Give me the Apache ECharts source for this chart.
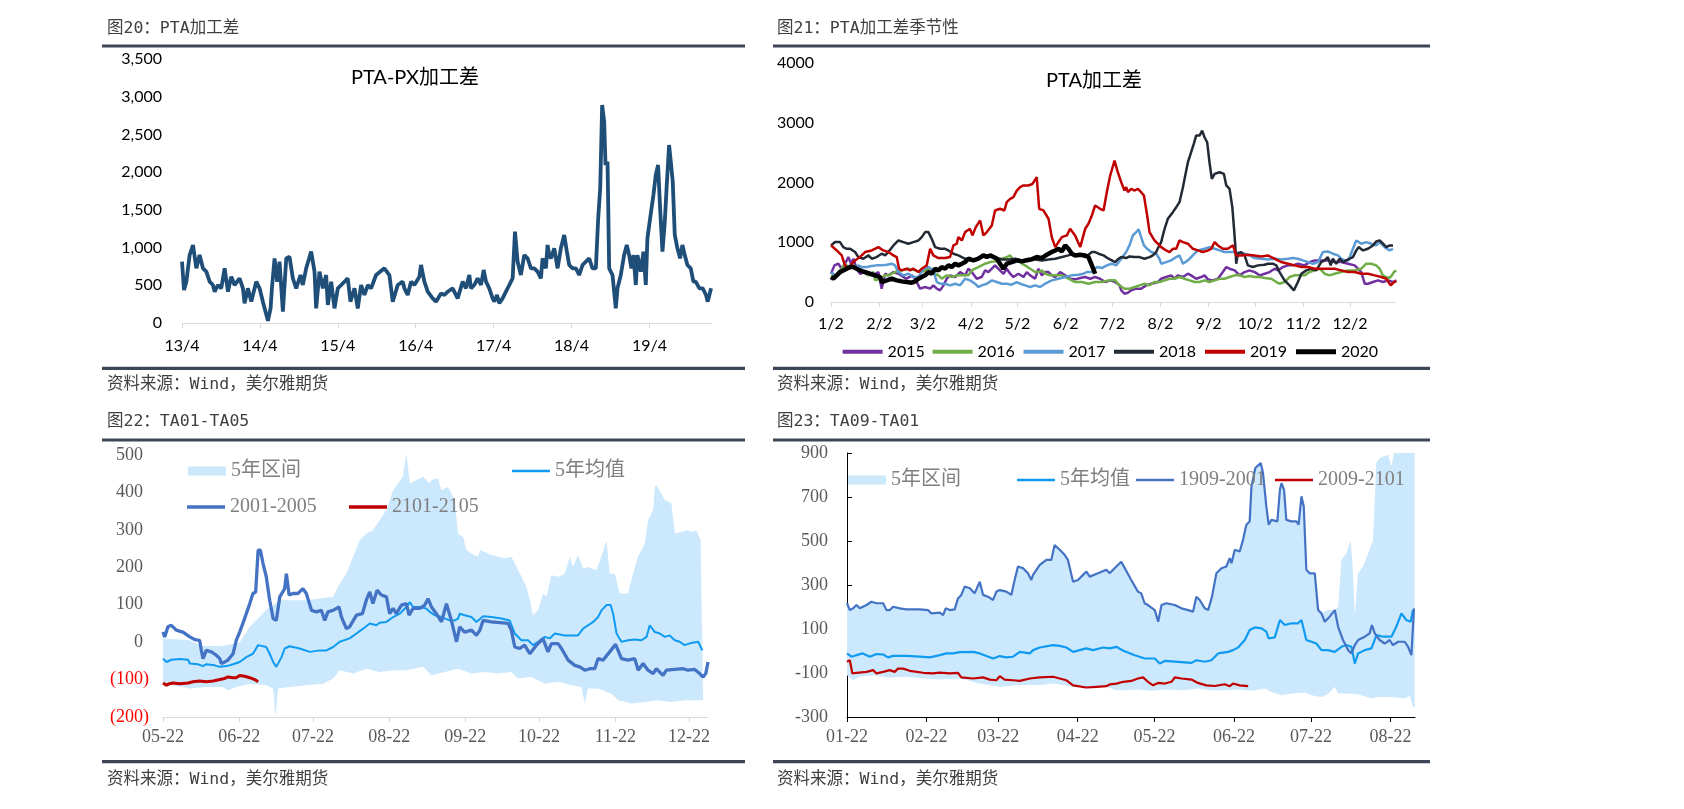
<!DOCTYPE html>
<html><head><meta charset="utf-8">
<script src="https://cdn.jsdelivr.net/npm/echarts@6/dist/echarts.min.js"></script>
<style>html,body{margin:0;padding:0;background:#fff}#c{width:1684px;height:809px}</style>
</head><body><div id="c"></div>
<script>
// ---------- Panel 1: PTA-PX加工差 (x = years since 2013-04) ----------
const p1TickPos = [0,1,2,3,4,5,6];
const p1TickLabels = ['13/4','14/4','15/4','16/4','17/4','18/4','19/4'];
const p1Data = [[0,813],[0.026,437],[0.056,548],[0.098,901],[0.141,1034],[0.184,725],[0.226,901],[0.269,725],[0.312,681],[0.355,548],[0.397,504],[0.419,415],[0.462,504],[0.504,460],[0.547,725],[0.59,415],[0.632,614],[0.675,504],[0.739,592],[0.782,460],[0.803,261],[0.846,460],[0.889,283],[0.953,548],[0.996,460],[1.038,283],[1.103,30],[1.137,194],[1.154,460],[1.188,857],[1.222,548],[1.252,813],[1.295,150],[1.338,857],[1.38,879],[1.423,592],[1.466,460],[1.521,636],[1.551,504],[1.594,725],[1.658,946],[1.701,681],[1.722,194],[1.765,681],[1.808,460],[1.85,636],[1.872,239],[1.915,548],[1.957,194],[2.0,460],[2.043,504],[2.128,592],[2.162,283],[2.214,460],[2.256,194],[2.299,504],[2.342,371],[2.385,504],[2.427,460],[2.491,636],[2.598,725],[2.662,636],[2.705,283],[2.769,504],[2.833,548],[2.855,460],[2.897,371],[2.94,548],[2.983,504],[3.047,614],[3.068,769],[3.111,548],[3.154,415],[3.218,327],[3.261,283],[3.325,393],[3.368,371],[3.41,415],[3.474,460],[3.538,327],[3.603,548],[3.645,460],[3.688,636],[3.709,460],[3.752,504],[3.795,592],[3.838,504],[3.872,703],[3.902,548],[3.944,460],[3.987,327],[4.009,283],[4.043,371],[4.073,261],[4.115,327],[4.158,415],[4.201,504],[4.244,592],[4.274,1211],[4.308,813],[4.35,636],[4.393,901],[4.436,857],[4.479,725],[4.521,725],[4.564,681],[4.607,592],[4.628,857],[4.671,725],[4.692,1034],[4.714,901],[4.735,857],[4.778,990],[4.821,725],[4.863,990],[4.906,1167],[4.94,946],[4.97,769],[5.013,725],[5.056,725],[5.098,636],[5.141,769],[5.184,813],[5.226,857],[5.269,725],[5.312,725],[5.342,1388],[5.368,1785],[5.393,2890],[5.419,2669],[5.436,2095],[5.462,2139],[5.483,725],[5.526,636],[5.568,194],[5.59,460],[5.632,636],[5.675,901],[5.709,1034],[5.739,901],[5.769,725],[5.795,901],[5.825,504],[5.846,901],[5.889,681],[5.923,946],[5.953,504],[5.974,1122],[6.009,1388],[6.051,1697],[6.081,1962],[6.111,2095],[6.137,1520],[6.167,946],[6.197,1343],[6.222,1829],[6.252,2360],[6.274,2139],[6.299,1874],[6.325,1167],[6.359,990],[6.393,857],[6.423,1034],[6.453,901],[6.487,769],[6.53,725],[6.564,548],[6.594,548],[6.641,460],[6.684,460],[6.726,371],[6.748,283],[6.791,460]];

// ---------- Panel 2: PTA加工差季节性 (x = days since 1/2) ----------
const p2TickPos = [0,31,59,90,120,151,181,212,243,273,304,334];
const p2TickLabels = ['1/2','2/2','3/2','4/2','5/2','6/2','7/2','8/2','9/2','10/2','11/2','12/2'];
const p2Names = ['2015','2016','2017','2018','2019','2020'];
const s2015 = [[0,473],[2.2,613],[4.7,641],[6.9,557],[9,641],[11.2,752],[12.9,641],[14.4,724],[16.5,557],[18.7,473],[21.9,501],[24.1,473],[27.3,446],[30.5,501],[32.6,223],[34.8,473],[36.9,446],[40.2,501],[43.4,473],[46.6,418],[48.7,390],[52,446],[54.1,390],[57.3,223],[60.6,251],[63.8,223],[65.9,279],[68.1,223],[70.2,195],[72.4,279],[74.5,390],[76.6,446],[79.9,418],[83.1,501],[86.3,446],[88.4,557],[90.6,501],[93.8,390],[97,418],[99.2,529],[101.3,501],[103.5,557],[105.6,613],[108.8,529],[111,473],[113.1,557],[115.3,473],[117.4,418],[120.6,473],[123.9,418],[126,501],[128.2,446],[131.4,390],[133.5,557],[135.7,446],[137.8,501],[140,501],[142.1,446],[144.3,418],[147.5,501],[150.7,446],[153.9,390],[157.1,379],[160.4,401],[163.6,418],[166.8,390],[170,418],[173.2,390],[176.5,334],[179.7,362],[182.9,334],[185.7,279],[186.8,195],[188.9,139],[191.1,156],[193.2,195],[196.4,223],[199.6,223],[202.9,279],[206.1,306],[210.4,334],[212.5,390],[215.7,418],[218.9,446],[221.1,390],[223.2,446],[226.5,418],[229.7,473],[231.8,446],[235,390],[238.3,418],[240.4,446],[242.6,379],[245.8,362],[249,390],[252.2,501],[254.4,585],[256.5,557],[259.8,529],[263,446],[266.2,501],[269.4,529],[272.7,501],[275.9,446],[279.1,473],[282.3,501],[285.5,557],[287.7,529],[290.9,585],[294.1,613],[297.3,613],[300.5,641],[304.8,613],[308,668],[311.3,696],[315.5,696],[319.8,696],[324.1,668],[328.4,668],[332.7,641],[337,613],[339.2,557],[341.3,501],[343.5,306],[345.6,306],[348.8,334],[352.1,362],[355.3,334],[358.5,362],[361.7,334],[363.9,362]];
const s2016 = [[0,446],[2.6,418],[4.7,501],[6.9,557],[9,641],[12.3,557],[14.4,613],[17.6,557],[20.8,501],[24.1,446],[27.3,501],[28.4,362],[31.6,390],[34.8,446],[36.9,446],[41.2,501],[45.5,529],[49.8,557],[54.1,529],[58.4,501],[60.6,529],[62.7,557],[64.8,501],[67,473],[69.1,446],[71.3,390],[74.5,446],[77.7,418],[80.9,446],[84.2,446],[88.4,446],[90.6,529],[92.7,557],[94.9,585],[97,613],[99.2,641],[102.4,668],[105.6,680],[109.9,724],[113.1,752],[115.3,780],[117.4,696],[120.6,696],[122.8,641],[124.9,613],[128.2,557],[131.4,501],[133.5,501],[135.7,529],[137.8,473],[141,446],[144.3,446],[148.6,446],[152.8,390],[157.1,334],[161.4,334],[165.7,306],[170,334],[174.3,334],[178.6,362],[182.9,362],[185.7,279],[188.9,223],[192.1,223],[195.4,251],[198.6,279],[201.8,306],[205,279],[208.2,334],[211.4,334],[214.7,362],[217.9,390],[221.1,390],[224.3,418],[227.5,390],[230.8,362],[234,334],[237.2,334],[240.4,362],[243.6,334],[246.9,362],[250.1,390],[253.3,390],[256.5,418],[259.8,446],[263,446],[266.2,418],[269.4,434],[272.7,418],[275.9,418],[279.1,401],[283.4,390],[286.6,334],[288.7,306],[291.9,334],[295.1,418],[298.4,446],[301.6,446],[304.8,446],[308,501],[311.3,529],[314.5,557],[317.7,473],[320.9,446],[324.1,473],[328.4,501],[332.7,529],[337,529],[341.3,557],[344.5,641],[347.7,641],[350.9,613],[353.1,557],[355.2,446],[357.4,418],[359.5,401],[361,446],[362.3,501],[363.8,529]];
const s2017 = [[0,501],[2.6,446],[5.8,473],[9,557],[12.3,613],[15.5,557],[17.6,613],[19.8,585],[23,585],[26.2,602],[29.4,613],[32.6,613],[35.9,624],[39.1,641],[41.2,613],[43.4,501],[46.6,446],[49.8,473],[53,418],[56.3,418],[59.5,557],[62.7,585],[65.9,529],[68.1,334],[70.2,306],[73.4,306],[76.6,279],[79.9,306],[83.1,279],[86.3,390],[89.5,362],[92.7,306],[94.9,251],[97,279],[100.3,306],[103.5,362],[106.7,334],[109.9,306],[113.1,306],[116.4,290],[119.6,334],[121.7,306],[124.9,279],[128.2,251],[131.4,279],[134.6,251],[137.8,306],[142.1,362],[146.4,390],[150.7,418],[155,446],[159.3,457],[162.5,473],[164.6,501],[167.9,501],[171.1,585],[174.3,568],[177.5,613],[180.7,641],[183.5,613],[186.8,724],[190,836],[192.1,947],[194.3,1114],[196.4,1170],[198,1214],[199.6,1086],[201.4,947],[203.5,891],[206.1,836],[209.3,808],[211.4,724],[212.5,641],[215.7,668],[218.9,696],[222.2,752],[224.3,780],[226.5,641],[229.7,696],[232.9,780],[236.1,863],[240.4,891],[243.6,919],[246.9,891],[250.1,863],[253.3,836],[259.8,836],[266.2,808],[269.4,780],[272.7,735],[276.9,724],[281.2,713],[285.5,724],[289.8,713],[294.1,724],[297.3,735],[300.5,724],[303.7,696],[307,668],[310.2,641],[313.4,668],[316.6,836],[319.8,847],[323,808],[326.3,780],[328.4,724],[330.6,696],[333.1,696],[335.9,891],[338.1,1030],[341.3,975],[344.5,1003],[347.7,975],[350.9,947],[353.1,1003],[356.3,919],[359.5,863],[361.7,891]];
const s2018 = [[0,947],[2.6,1003],[5.8,1003],[7.9,919],[10.1,891],[12.3,891],[15.5,836],[17.6,752],[20.8,724],[24.1,780],[26.2,724],[29.4,752],[32.6,808],[34.8,780],[36.9,836],[40.2,947],[43.4,1030],[46.6,1003],[49.8,975],[53,1003],[56.3,1030],[58.4,1086],[60.6,1170],[62.7,1170],[64.8,1058],[67,919],[70.2,891],[73.4,891],[75.6,863],[78.8,808],[82,780],[84.2,752],[86.3,724],[89.5,713],[92.7,713],[94.9,724],[97,752],[99.2,780],[101.3,780],[105.6,752],[109.9,713],[114.2,713],[118.5,724],[122.8,696],[127.1,724],[131.4,713],[135.7,696],[140,713],[144.3,724],[148.6,752],[152.8,780],[156.1,808],[159.3,780],[161.4,780],[163.6,752],[165.7,791],[167.9,836],[170,836],[172.2,808],[175.4,780],[178.6,724],[182.9,668],[184.6,713],[186.8,752],[190,735],[192.1,763],[195.4,752],[198.6,752],[201.8,724],[205,752],[207.2,780],[209.3,836],[210.8,919],[212.5,1003],[214.7,1225],[216.8,1393],[220,1504],[222.2,1587],[224.3,1671],[226.5,1922],[228,2117],[229.7,2339],[231.8,2507],[233.5,2646],[235,2785],[237.2,2785],[238.9,2869],[240.4,2757],[242.1,2674],[243.6,2339],[245.1,2061],[246.9,2144],[250.1,2172],[252.9,2144],[254.4,1950],[256.5,1894],[258.3,1587],[259.4,1225],[260.2,947],[260.8,641],[261.9,808],[264,836],[266.2,780],[268.3,613],[271.5,585],[274.8,613],[279.1,624],[281.2,641],[284.4,641],[286.6,613],[288.7,501],[291.9,362],[295.1,279],[297.9,195],[300.5,334],[302.7,473],[305.9,529],[309.1,557],[312.3,529],[315.5,668],[317.7,696],[319.8,752],[321.6,613],[323,724],[325.2,641],[327.4,724],[329.5,668],[331.6,696],[333.8,724],[335.9,752],[338.1,863],[339.6,919],[342.4,863],[345.6,891],[348.8,947],[351,1014],[353.1,1030],[355.3,975],[357.4,919],[359.6,947],[361.7,947]];
const s2019 = [[0,947],[3.7,863],[6.9,780],[9,613],[11.2,557],[14.4,668],[19.8,780],[21.9,836],[26.2,863],[30.5,919],[33.7,863],[36.9,836],[40.2,780],[42.3,752],[43.8,557],[45.5,529],[48.7,557],[50.9,529],[53,557],[56.3,501],[58.4,557],[61.6,613],[63.8,891],[65.9,780],[69.1,735],[73.4,735],[76.6,752],[78.8,947],[80.9,975],[82,1086],[84.2,1030],[86.3,1170],[89.5,1225],[91,1114],[93.2,1253],[96,1365],[98.1,1114],[100.3,1170],[103.5,1281],[105.6,1532],[108.8,1560],[111.6,1532],[113.1,1671],[115.3,1727],[117.4,1755],[119.6,1866],[121.7,1922],[123.9,1950],[127.1,1950],[129.7,1977],[132.4,2089],[134,1560],[136.7,1532],[140,1393],[142.1,1086],[144.3,919],[146.4,1003],[148.6,1086],[151.8,1114],[153.9,1225],[157.1,1114],[160.4,919],[163.6,1225],[165.7,1309],[167.9,1448],[170,1615],[173.2,1560],[175.4,1532],[177.5,1838],[179.7,2117],[182.5,2367],[184.6,2172],[186.8,2005],[188.9,1866],[190,1922],[191.1,1838],[193.2,1894],[195.4,1866],[197.5,1894],[199.6,1838],[201.4,1782],[203.5,1448],[205,1170],[208.2,1030],[210.4,975],[212.5,919],[215.7,863],[217.9,836],[220,891],[222.2,891],[224.3,1030],[226.5,1003],[229.7,975],[232.9,891],[236.1,863],[239.3,836],[242.6,863],[244.7,891],[246.9,1003],[249,947],[252.2,891],[255.4,891],[258.7,947],[260.8,780],[264,780],[268.3,791],[272.5,780],[276.9,763],[281.2,780],[283.3,752],[285.5,724],[289.8,668],[294.1,641],[298.4,613],[302.7,585],[307,585],[311.3,557],[315.5,557],[319.8,557],[324.1,557],[328.4,529],[332.7,501],[337,501],[341.3,473],[345.6,473],[349.9,446],[354.2,418],[357.4,390],[360.2,279],[362.4,334],[363.9,345]];
const s2020 = [[0,418],[1.5,390],[3.7,446],[5.8,501],[7.9,529],[10.1,557],[12.3,585],[14.4,585],[16.5,557],[18.7,529],[21.9,501],[25.1,473],[28.4,446],[31.6,418],[32.6,334],[35.9,362],[39.1,390],[42.3,362],[45.5,345],[48.7,334],[52,323],[54.1,345],[56.3,390],[58.4,418],[60.6,446],[62.7,501],[64.8,473],[67,557],[69.1,529],[71.3,585],[73.4,557],[75.6,613],[77.7,585],[79.9,641],[82,613],[84.2,641],[86.3,668],[88.4,724],[91.7,696],[94.9,724],[98.1,780],[100.3,752],[102.4,780],[104.6,752],[106.7,724],[108.8,641],[111,557],[113.1,641],[116.4,668],[119.6,696],[122.8,680],[126,696],[129.2,713],[132.4,752],[135.7,735],[138.9,791],[142.1,836],[144.3,863],[146.4,891],[148.6,847],[150.7,947],[152.8,891],[155,808],[157.1,780],[160.4,791],[163.6,780],[165.7,752],[167.9,613],[170,473]];

// ---------- Panel 3: TA01-TA05 (x = days since 05-22) ----------
const p3TickPos = [0,31,61,92,123,153,184,214];
const p3TickLabels = ['05-22','06-22','07-22','08-22','09-22','10-22','11-22','12-22'];
const p3Upper = [[0,10],[10.9,5],[15.6,-10],[24.4,-10],[31.2,-1],[35.3,41],[42,85],[47.5,112],[58.3,112],[69.2,121],[71.9,157],[74.6,183],[80,272],[82.7,290],[85.4,299],[88.1,326],[90.9,353],[93.6,406],[97.6,442],[99,504],[100.4,424],[103.1,433],[105.8,442],[108.5,424],[109.2,433],[111.9,438],[113.2,406],[115.9,415],[118.7,380],[120,290],[122.1,281],[123.4,246],[125.4,237],[128.2,228],[128.9,246],[133.6,233],[139,224],[141.7,228],[143.1,210],[145.8,175],[147.8,148],[149.2,112],[150.5,72],[152.6,85],[154.6,130],[156,121],[158,179],[160.8,175],[163.4,183],[165.5,228],[166.8,201],[168.8,233],[170.9,197],[172.9,201],[176.3,192],[178.3,228],[180.4,272],[181.7,183],[183.8,183],[185.8,130],[189.2,130],[191.2,183],[193.2,228],[196,263],[197.3,326],[199.4,353],[200.1,415],[200.7,419],[202.7,397],[204.1,380],[206.8,371],[208.2,290],[210.9,294],[213.6,299],[214.9,294],[216.9,299],[218.7,272],[219.7,-155]];
const p3Lower = [[0,-111],[4.1,-115],[10.9,-124],[17.6,-120],[24.4,-120],[26.4,-129],[29.8,-120],[35.3,-111],[42,-115],[44.8,-124],[45.8,-200],[46.8,-124],[51.5,-120],[58.3,-115],[65.1,-111],[69.2,-97],[71.9,-75],[77.3,-84],[82.7,-71],[88.1,-80],[93.6,-75],[99,-75],[105.8,-66],[108.5,-84],[109.2,-89],[114.6,-80],[120,-71],[125.4,-84],[130.9,-80],[136.3,-84],[141.7,-80],[144.4,-97],[149.9,-93],[155.3,-111],[160.7,-106],[166.1,-115],[170.2,-120],[171.6,-164],[172.9,-124],[176.9,-124],[182.4,-138],[185.2,-155],[190.6,-164],[196,-160],[201.4,-155],[206.8,-160],[212.2,-155],[219.7,-155]];
const p3Avg = [[0,-44],[1.4,-53],[3.4,-47],[6.8,-45],[10.2,-47],[10.9,-57],[14.2,-59],[16.3,-64],[17.6,-59],[21,-62],[23.1,-66],[25.8,-64],[28.5,-59],[31.2,-53],[33.9,-40],[36.6,-31],[38.7,-8],[42,-13],[43.4,-31],[44.8,-53],[46.1,-66],[48.2,-40],[49.5,-17],[51.5,-11],[55.6,-17],[59.7,-26],[63.8,-22],[66.5,-22],[69.2,-13],[71.9,1],[75.9,10],[78.7,23],[81.4,36],[84.1,50],[86.8,45],[88.1,52],[90.9,54],[93.6,67],[96.3,76],[99,94],[100.4,107],[101.7,94],[104.4,94],[107.1,90],[108.5,81],[110.5,72],[113.2,67],[116.6,58],[118.7,58],[120,63],[120.7,76],[122.7,72],[125.5,67],[127.5,54],[130.2,69],[133.6,67],[137.7,63],[141,58],[143.1,23],[145.8,5],[148.5,5],[150.5,-8],[152.6,1],[155.3,14],[157.3,10],[159.4,23],[163.4,18],[168.8,18],[170.9,36],[172.9,45],[175,54],[177,67],[178.4,85],[180.4,99],[182.1,99],[183.1,76],[184.5,23],[186.5,1],[189.2,5],[191.9,7],[194.6,5],[196.7,14],[198,45],[200.1,27],[202.1,23],[204.1,14],[206.1,18],[208.2,5],[210.2,1],[212.2,-8],[214.9,-2],[217.7,1],[219.4,-22]];
const p3Cur = [[0,27],[0.7,14],[2,41],[3.4,45],[5.4,32],[8.1,27],[10.9,14],[12.9,7],[14.9,5],[15.6,-22],[16.3,-44],[17.6,-22],[19.7,-26],[21.7,-35],[23.1,-44],[23.7,-57],[25.1,-53],[26.4,-48],[28.5,-31],[29.8,5],[31.2,27],[33.2,63],[35.3,103],[36.6,130],[37.7,134],[38.7,246],[39.6,246],[40.7,210],[42,175],[43.4,112],[44.8,63],[46.1,58],[47.5,121],[49.5,143],[50.2,183],[51.3,126],[52.9,130],[54.9,130],[56.9,143],[58.3,130],[60.4,85],[62.4,81],[64.4,85],[65.8,58],[67.1,81],[69.2,85],[71.6,94],[72.6,67],[74.6,36],[75.9,41],[78.7,72],[81.1,76],[82.7,112],[84.1,134],[85.4,103],[87.1,139],[88.8,126],[90.9,121],[92.2,76],[93.6,90],[94.9,76],[97,99],[99,103],[100.1,72],[101.7,90],[104.4,90],[106.5,99],[107.8,116],[108.5,116],[109.2,94],[111.2,76],[113.3,54],[115.3,103],[117.3,58],[119.4,1],[120.7,41],[122.7,27],[125.5,32],[127.5,18],[128.9,32],[130.2,58],[133.6,54],[140.4,50],[141.7,32],[143.1,-13],[145.1,-17],[147.1,-8],[149.2,-31],[151.9,-8],[154.6,9],[156.6,-26],[158,-4],[160.7,-4],[162.1,-17],[164.8,-48],[167.5,-62],[169.5,-66],[171.6,-75],[173.6,-71],[175.6,-71],[177,-44],[179,-48],[181.7,-26],[184.1,-6],[186.5,-44],[189.2,-48],[191.9,-44],[193.3,-75],[195.3,-57],[197.3,-75],[199.4,-84],[200.7,-71],[203.4,-89],[204.8,-75],[208.2,-73],[211.6,-71],[213.6,-75],[216.3,-73],[218.3,-84],[219.7,-93],[220.8,-84],[221.7,-53]];
const p3New = [[0,-109],[1.4,-115],[2.7,-111],[4.1,-109],[6.8,-111],[10.2,-109],[12.2,-106],[14.9,-104],[17.6,-106],[20.4,-104],[23.1,-100],[25.1,-97],[26.4,-93],[28.5,-95],[29.8,-95],[31.2,-89],[33.2,-91],[35.3,-95],[37.3,-100],[38.7,-106]];

// ---------- Panel 4: TA09-TA01 (x = days since 01-22) ----------
const p4TickPos = [0,31,59,90,120,151,181,212];
const p4TickLabels = ['01-22','02-22','03-22','04-22','05-22','06-22','07-22','08-22'];
const p4Cur = [[0,217],[1.1,186],[2.4,194],[3.7,209],[5,194],[7.6,209],[9.5,224],[11.5,217],[14.1,217],[15.4,186],[16.7,186],[18,201],[20.6,194],[23.2,189],[28.4,189],[31.6,186],[32.9,171],[36.2,174],[37.5,163],[38.5,194],[40.1,186],[42,189],[43.3,239],[44.6,255],[45.9,293],[47.9,285],[49.8,262],[51.8,315],[53.1,255],[55,247],[57,232],[58.3,270],[59.6,277],[62.2,270],[64.1,255],[65.4,323],[66.7,384],[68.7,376],[70.6,353],[71.9,323],[72.6,346],[75.2,391],[77.8,414],[79.7,414],[81,482],[83,460],[84.9,437],[86.2,414],[88.2,315],[90.1,323],[92.1,346],[93.4,361],[94.7,338],[97.9,353],[101.2,369],[102.5,353],[104.4,376],[107,406],[110.9,323],[113.5,270],[114.8,262],[116.1,217],[117.4,209],[120.1,186],[121.4,133],[122.7,209],[124.6,217],[127.9,209],[130.5,194],[133.1,186],[135,179],[136.3,247],[137.6,232],[139.6,194],[140.9,186],[142.4,247],[144.1,353],[146.1,376],[148,384],[149.3,422],[150,399],[151.3,460],[153.2,452],[154.5,505],[155.8,574],[157.1,589],[157.8,748],[159.3,832],[161.4,854],[162.3,809],[163.6,657],[164.5,574],[165.6,596],[167.9,589],[168.9,733],[169.5,763],[170.5,733],[171.4,596],[173.4,589],[175.3,589],[176.2,574],[177.3,703],[178.2,657],[179.2,369],[180.5,353],[182.5,353],[183.8,186],[185.1,171],[186.4,133],[188.3,156],[190.3,186],[191.6,110],[193.5,50],[195.5,4],[196.8,-11],[198.1,27],[199.4,50],[202,65],[203.9,80],[204.8,118],[205.9,80],[207.8,50],[209.8,34],[211.7,50],[213,27],[215,42],[217.6,42],[218.9,19],[220.2,-19],[221.2,194]];
const p4Upper = [[0,217],[1.1,186],[2.4,194],[3.7,209],[5,194],[7.6,209],[9.5,224],[11.5,217],[14.1,217],[15.4,186],[16.7,186],[18,201],[20.6,194],[23.2,189],[28.4,189],[31.6,186],[32.9,171],[36.2,174],[37.5,163],[38.5,194],[40.1,186],[42,189],[43.3,239],[44.6,255],[45.9,293],[47.9,285],[49.8,262],[51.8,315],[53.1,255],[55,247],[57,232],[58.3,270],[59.6,277],[62.2,270],[64.1,255],[65.4,323],[66.7,384],[68.7,376],[70.6,353],[71.9,323],[72.6,346],[75.2,391],[77.8,414],[79.7,414],[81,482],[83,460],[84.9,437],[86.2,414],[88.2,315],[90.1,323],[92.1,346],[93.4,361],[94.7,338],[97.9,353],[101.2,369],[102.5,353],[104.4,376],[107,406],[110.9,323],[113.5,270],[114.8,262],[116.1,217],[117.4,209],[120.1,186],[121.4,133],[122.7,209],[124.6,217],[127.9,209],[130.5,194],[133.1,186],[135,179],[136.3,247],[137.6,232],[139.6,194],[140.9,186],[142.4,247],[144.1,353],[146.1,376],[148,384],[149.3,422],[150,399],[151.3,460],[153.2,452],[154.5,505],[155.8,574],[157.1,589],[157.8,748],[159.3,832],[161.4,854],[162.3,809],[163.6,657],[164.5,574],[165.6,596],[167.9,589],[168.9,733],[169.5,763],[170.5,733],[171.4,596],[173.4,589],[175.3,589],[176.2,574],[177.3,703],[178.2,657],[179.2,369],[180.5,353],[182.5,353],[183.8,186],[185.1,171],[187.6,186],[190.3,186],[191.6,201],[192.9,414],[194.8,444],[196.5,505],[197.2,399],[198.1,163],[199.4,353],[201.3,384],[203.9,460],[205.2,505],[206.5,854],[207.8,877],[211.1,892],[212.4,839],[213.4,900],[221.5,900]];
const p4Lower = [[0,-110],[2.4,-133],[5,-117],[10.2,-110],[16.7,-120],[23.2,-117],[31,-125],[36.2,-130],[44,-125],[51.8,-148],[59.6,-163],[67.4,-155],[75.2,-155],[80.4,-148],[88.2,-163],[93.4,-171],[96,-163],[101.2,-163],[105.1,-178],[108.3,-178],[113.5,-175],[118.8,-181],[124,-175],[131.8,-178],[136.9,-171],[142.2,-178],[147.3,-178],[152.6,-175],[157.8,-181],[163,-171],[165.6,-186],[169.5,-201],[173.4,-193],[178.6,-189],[181.2,-201],[185.1,-209],[187.6,-197],[190.3,-163],[191.6,-193],[194.2,-193],[199.4,-197],[204.6,-216],[207.1,-209],[212.4,-209],[217.6,-216],[219.6,-205],[220.8,-254],[221.5,-254]];
const p4Avg = [[0,-11],[1.7,-26],[3.7,-19],[6.2,-11],[8.9,-26],[11.5,-14],[14.1,-16],[16,-29],[18,-22],[23.2,-22],[28.4,-26],[32.3,-29],[36.2,-19],[38.8,-11],[41.4,-11],[44,-5],[49.2,-4],[51.8,-11],[54.4,-23],[57,-34],[59.6,-23],[62.2,-29],[64.8,-26],[67.4,-4],[71.3,-11],[72.6,4],[75.2,16],[80.4,27],[83,23],[85.6,16],[88.2,-4],[90.8,4],[93.4,12],[96,4],[99.9,16],[102.5,12],[105.1,19],[107.8,1],[112.3,-19],[116.2,-34],[120.1,-34],[122,-57],[124,-45],[129.2,-49],[134.4,-54],[136.3,-42],[139.6,-49],[142.2,-42],[144.8,-11],[148.7,-4],[150.6,4],[152.6,16],[155.2,50],[157.1,95],[159.1,107],[161.7,103],[163.6,88],[164.5,57],[166.9,62],[168.9,141],[170.8,118],[173.4,126],[176,126],[177.3,141],[179.2,50],[181.2,42],[183.1,34],[185.1,4],[187.6,4],[190.3,-4],[192.9,19],[194.8,27],[196.8,19],[198.1,-57],[199.4,-11],[202,4],[204.6,12],[206.6,72],[209.2,65],[212.4,65],[214.3,110],[216.3,171],[218.2,141],[219.9,133],[220.8,186]];
const p4New = [[0,-49],[1.1,-42],[2.1,-102],[3.7,-99],[7.6,-95],[10.2,-87],[11.5,-102],[14.1,-95],[16.7,-87],[18.6,-95],[19.9,-80],[21.9,-80],[24.5,-90],[29.7,-99],[33.6,-102],[36.2,-98],[40.1,-102],[43.3,-99],[44.6,-120],[49.2,-125],[53.1,-120],[55.7,-130],[58.3,-133],[59.6,-114],[61.5,-130],[64.8,-133],[67.4,-136],[71.3,-125],[75.2,-120],[80.4,-117],[83,-125],[85.6,-133],[88.2,-156],[93.4,-166],[97.3,-163],[101.2,-160],[102.5,-152],[105.1,-148],[107.8,-140],[110.9,-136],[113.5,-125],[115.5,-120],[117.4,-140],[119.4,-156],[121.4,-145],[124,-148],[126.6,-140],[127.9,-120],[130.5,-125],[134.4,-130],[136.9,-145],[140.2,-156],[143.5,-159],[147.4,-151],[149.3,-160],[150.6,-148],[153.2,-156],[156.5,-160]];

// ---------- styling ----------
const F_CAL = 'Lato, "Noto Sans CJK SC", sans-serif';
const F_SER = '"Liberation Serif", "Noto Sans CJK SC", serif';
const F_HDR = '"DejaVu Sans Mono", "Noto Sans CJK SC", monospace';
const BAND = '#CCE8FC', AVG = '#0F9BF2', CUR = '#4472C4', NEWC = '#C00000', RULE = '#3C4656';
const p2Colors = ['#7030A0','#70AD47','#5B9BD5','#222A35','#C00000','#000000'];
const p2Widths = [2.5,2.5,2.5,2.5,2.5,4.5];

const chart = echarts.init(document.getElementById('c'), null, {renderer:'canvas'});

function fmtComma(v){ return String(v).replace(/\B(?=(\d{3})+(?!\d))/g, ','); }
function lookup(pos, labels){ return v => { const i = pos.indexOf(Math.round(v*100)/100); return i >= 0 ? labels[i] : ''; }; }

function xAx(gi, max, pos, labels, lineColor, font, size, color, margin){
  return {gridIndex:gi, type:'value', min:0, max:max,
    axisLine:{show:true, onZero:false, lineStyle:{color:lineColor, width:1}},
    axisTick:{show:true, inside:false, length:5, lineStyle:{color:lineColor}, customValues:pos},
    axisLabel:{customValues:pos, formatter:lookup(pos, labels), fontFamily:font, fontSize:size, color:color, margin:margin, showMinLabel:true, showMaxLabel:true},
    splitLine:{show:false}};
}

function band(name, xi, upper, lower){
  return {type:'custom', name:name, xAxisIndex:xi, yAxisIndex:xi, z:1, silent:true,
    data:[[upper[0][0], upper[0][1]]], itemStyle:{color:BAND},
    renderItem:(params, api) => {
      const pts = upper.map(p => api.coord(p)).concat(lower.slice().reverse().map(p => api.coord(p)));
      return {type:'polygon', shape:{points:pts}, style:{fill:BAND}};
    }};
}
function line(name, xi, data, color, width, z){
  return {type:'line', name:name, xAxisIndex:xi, yAxisIndex:xi, data:data, showSymbol:false, symbol:'none',
    lineStyle:{color:color, width:width}, itemStyle:{color:color}, z:z||2, silent:true};
}
function lg(name, left, cy, w, h, font, size, color, itemColor){
  const lh = size + 4;
  const d = {name:name, icon:'rect'};
  if (itemColor) d.itemStyle = {color:itemColor};
  return {show:true, selectedMode:false, left:left, top:cy - lh/2, padding:0, itemGap:0,
    itemWidth:w, itemHeight:h, data:[d], itemStyle:{borderWidth:0},
    textStyle:{fontFamily:font, fontSize:size, color:color, lineHeight:lh}};
}
function txt(x, y, s, font, size, color, align){
  return {type:'text', x:x, y:y, silent:true, style:{text:s, fontFamily:font, fontSize:size, fill:color,
    textAlign:align||'left', textVerticalAlign:'middle', align:align||'left', verticalAlign:'middle'}};
}
function rule(x1, x2, cy){ return {type:'rect', silent:true, shape:{x:x1, y:cy-1.6, width:x2-x1, height:3.2}, style:{fill:RULE}}; }

const series = [];
series.push(line('PTA-PX', 0, p1Data, '#1F4E79', 3.8));
const p2Data = [s2015, s2016, s2017, s2018, s2019, s2020];
p2Names.forEach((n, i) => series.push(line(n, 1, p2Data[i], p2Colors[i], p2Widths[i], 2 + i*0.1)));
series.push(band('5年区间', 2, p3Upper, p3Lower));
series.push(line('5年均值', 2, p3Avg, AVG, 2));
series.push(line('2001-2005', 2, p3Cur, CUR, 3.3, 3));
series.push(line('2101-2105', 2, p3New, NEWC, 3, 4));
series.push(band('5年区间', 3, p4Upper, p4Lower));
series.push(line('5年均值', 3, p4Avg, AVG, 2.2));
series.push(line('1909-2001', 3, p4Cur, CUR, 2.2, 3));
series.push(line('2009-2101', 3, p4New, NEWC, 2.2, 4));

const p2LegendLeft = [842.6, 932.6, 1023.5, 1114, 1205, 1296];
const legends = p2Names.map((n, i) => lg(n, p2LegendLeft[i], 351.7, 40, i === 5 ? 5 : 4, F_CAL, 16, '#000'));
legends.push(lg('5年区间', 188, 471, 38, 9, F_SER, 20, '#7F7F7F', BAND));
legends.push(lg('5年均值', 512, 471, 38, 2.5, F_SER, 20, '#7F7F7F'));
legends.push(lg('2001-2005', 187, 507, 38, 3.5, F_SER, 20, '#7F7F7F'));
legends.push(lg('2101-2105', 349, 507, 38, 3.5, F_SER, 20, '#7F7F7F'));
legends.push(lg('5年区间', 848, 480, 38, 9, F_SER, 20, '#7F7F7F', BAND));
legends.push(lg('5年均值', 1017, 480, 38, 2.5, F_SER, 20, '#7F7F7F'));
legends.push(lg('1909-2001', 1136, 480, 38, 2.5, F_SER, 20, '#7F7F7F'));
legends.push(lg('2009-2101', 1275, 480, 38, 2.5, F_SER, 20, '#7F7F7F'));

const option = {
  animation:false,
  backgroundColor:'#ffffff',
  grid:[
    {left:182, top:59, width:529, height:264},
    {left:831, top:63, width:564, height:239},
    {left:163, top:455, width:545, height:262},
    {left:847, top:453, width:568, height:264}
  ],
  xAxis:[
    xAx(0, 6.79, p1TickPos, p1TickLabels, '#D9D9D9', F_CAL, 16, '#000', 15),
    xAx(1, 363, p2TickPos, p2TickLabels, '#D9D9D9', F_CAL, 16, '#000', 14),
    xAx(2, 221.7, p3TickPos, p3TickLabels, '#D9D9D9', F_SER, 18, '#595959', 11),
    xAx(3, 221.6, p4TickPos, p4TickLabels, '#000000', F_SER, 18, '#595959', 11)
  ],
  yAxis:[
    {gridIndex:0, type:'value', min:0, max:3500, interval:500, axisLine:{show:false}, axisTick:{show:false}, splitLine:{show:false},
      axisLabel:{formatter:fmtComma, fontFamily:F_CAL, fontSize:16, color:'#000', margin:20}},
    {gridIndex:1, type:'value', min:0, max:4000, interval:1000, axisLine:{show:false}, axisTick:{show:false}, splitLine:{show:false},
      axisLabel:{formatter:v => String(v), fontFamily:F_CAL, fontSize:16, color:'#000', margin:17}},
    {gridIndex:2, type:'value', min:-200, max:500, interval:100, axisLine:{show:false}, axisTick:{show:false}, splitLine:{show:false},
      axisLabel:{margin:14, formatter:v => v < 0 ? '{n|(' + (-v) + ')}' : '{p|' + v + '}',
        rich:{n:{color:'#FF0000', fontFamily:F_SER, fontSize:18}, p:{color:'#595959', fontFamily:F_SER, fontSize:18, padding:[0,6,0,0]}}}},
    {gridIndex:3, type:'value', min:-300, max:900, interval:200, axisLine:{show:true, lineStyle:{color:'#000', width:1}},
      axisTick:{show:true, inside:true, length:5, lineStyle:{color:'#000'}}, splitLine:{show:false},
      axisLabel:{formatter:v => String(v), fontFamily:F_SER, fontSize:18, color:'#595959', margin:19}}
  ],
  legend:legends,
  series:series,
  graphic:[
    rule(102, 745, 46), rule(773, 1430, 46), rule(102, 745, 368.3), rule(773, 1430, 368.3),
    rule(102, 745, 440), rule(773, 1430, 440), rule(102, 745, 761.7), rule(773, 1430, 761.7),
    txt(107, 29, '图20：PTA加工差', F_HDR, 16.5, '#404040'),
    txt(777, 29, '图21：PTA加工差季节性', F_HDR, 16.5, '#404040'),
    txt(107, 422, '图22：TA01-TA05', F_HDR, 16.5, '#404040'),
    txt(777, 422, '图23：TA09-TA01', F_HDR, 16.5, '#404040'),
    txt(107, 385, '资料来源：Wind，美尔雅期货', F_HDR, 16.5, '#404040'),
    txt(777, 385, '资料来源：Wind，美尔雅期货', F_HDR, 16.5, '#404040'),
    txt(107, 780, '资料来源：Wind，美尔雅期货', F_HDR, 16.5, '#404040'),
    txt(777, 780, '资料来源：Wind，美尔雅期货', F_HDR, 16.5, '#404040'),
    txt(415, 78, 'PTA-PX加工差', F_CAL, 20, '#000', 'center'),
    txt(1094, 81, 'PTA加工差', F_CAL, 20, '#000', 'center')
  ]
};
chart.setOption(option);
</script></body></html>
